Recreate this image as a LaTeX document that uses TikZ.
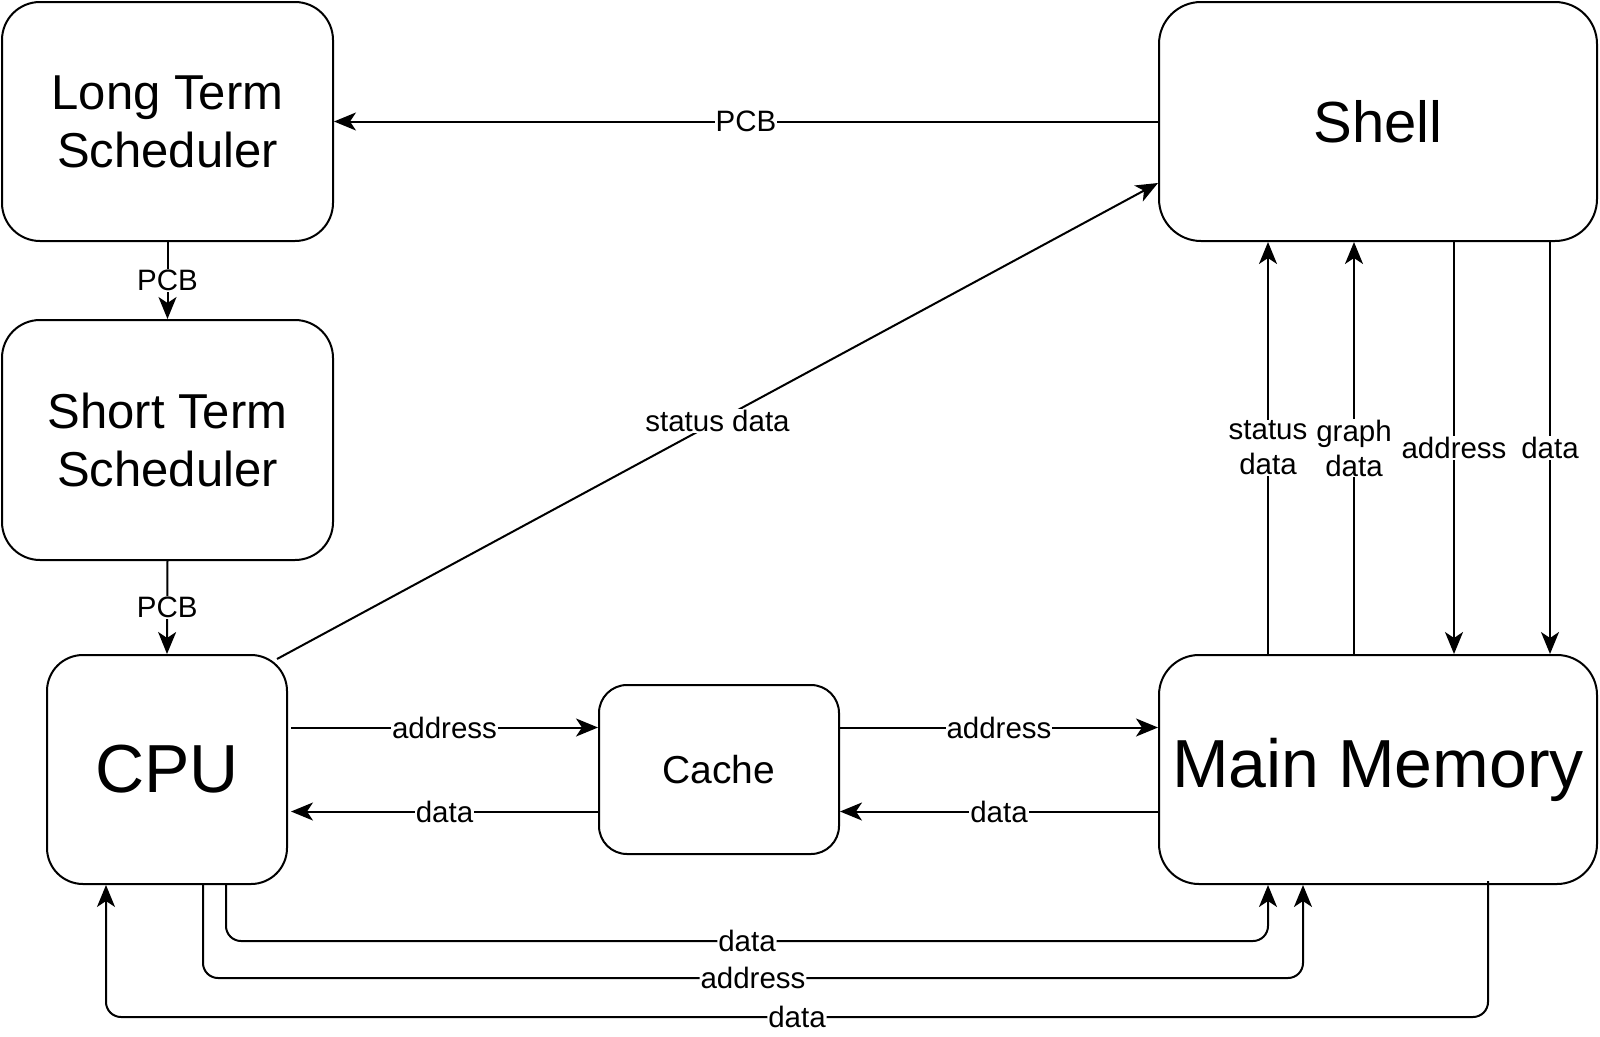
\documentclass[tikz,border=0pt]{standalone}
\usepackage{fontspec}
\setmainfont{Liberation Sans}
\usetikzlibrary{arrows.meta,calc}
\begin{document}
\begin{tikzpicture}[x=1pt,y=-1pt,
  box/.style={draw, line width=2pt, rounded corners=#1, inner sep=0pt, align=center, anchor=center},
  arr/.style={line width=2pt, -{Stealth[length=22pt 0,width=18pt 0,inset=6pt]}},
  lbl/.style={fill=white, inner sep=1pt, font=\fontsize{29.5}{35}\selectfont, align=center}]
\useasboundingbox (0,0) rectangle (1600,1036);
% boxes
\node[box=38pt, minimum width=331pt, minimum height=239pt, font=\fontsize{49}{58}\selectfont] (LTS) at (167.5,121.5) {Long Term\\Scheduler};
\node[box=38pt, minimum width=331pt, minimum height=240pt, font=\fontsize{49}{58}\selectfont] (STS) at (167.5,440) {Short Term\\Scheduler};
\node[box=36pt, minimum width=240pt, minimum height=229pt, font=\fontsize{68}{80}\selectfont] (CPU) at (167,769.5) {CPU};
\node[box=28pt, minimum width=240pt, minimum height=169pt, font=\fontsize{39}{46}\selectfont] (Cache) at (719,769.5) {Cache};
\node[box=40pt, minimum width=438pt, minimum height=229pt, font=\fontsize{68}{80}\selectfont] (MM) at (1378,769.5) {Main Memory};
\node[box=42pt, minimum width=438pt, minimum height=239pt, font=\fontsize{58}{68}\selectfont] (Shell) at (1378,121.5) {Shell};
% scheduler chain
\draw[arr] (Shell.west) -- node[lbl]{PCB} (LTS.east);
\draw[arr] (LTS.south) -- node[lbl]{PCB} (STS.north);
\draw[arr] (STS.south) -- node[lbl]{PCB} (CPU.north);
% CPU -> Shell
\draw[arr] ($(CPU.north east)+(-11,5)$) -- node[lbl]{status data} ($(Shell.south west)+(0,-59)$);
% CPU <-> Cache
\draw[arr] ($(CPU.east)+(3,-42)$) -- node[lbl]{address} ($(Cache.west)+(0,-42)$);
\draw[arr] ($(Cache.west)+(0,42)$) -- node[lbl]{data} ($(CPU.east)+(3,42)$);
% Cache <-> MM
\draw[arr] ($(Cache.east)+(0,-42)$) -- node[lbl]{address} ($(MM.west)+(0,-42)$);
\draw[arr] ($(MM.west)+(0,42)$) -- node[lbl]{data} ($(Cache.east)+(0,42)$);
% MM <-> Shell
\draw[arr] ($(MM.north west)+(110,0)$) -- node[lbl]{status\\data} ($(Shell.south west)+(110,0)$);
\draw[arr] ($(MM.north west)+(196,0)$) -- node[lbl]{graph\\data} ($(Shell.south west)+(196,0)$);
\draw[arr] ($(Shell.south west)+(296,0)$) -- node[lbl]{address} ($(MM.north west)+(296,0)$);
\draw[arr] ($(Shell.south west)+(392,0)$) -- node[lbl]{data} ($(MM.north west)+(392,0)$);
% bottom connectors
\draw[arr, rounded corners=15pt] ($(CPU.south west)+(180,0)$) -- ++(0,56) -| node[lbl,pos=0.25]{data} ($(MM.south west)+(110,0)$);
\draw[arr, rounded corners=15pt] ($(CPU.south west)+(157,0)$) -- ++(0,93) -| node[lbl,pos=0.25]{address} ($(MM.south west)+(145,0)$);
\draw[arr, rounded corners=15pt] ($(MM.south west)+(330,-4)$) -- ++(0,136) -| node[lbl,pos=0.25]{data} ($(CPU.south west)+(60,0)$);
\end{tikzpicture}
\end{document}
